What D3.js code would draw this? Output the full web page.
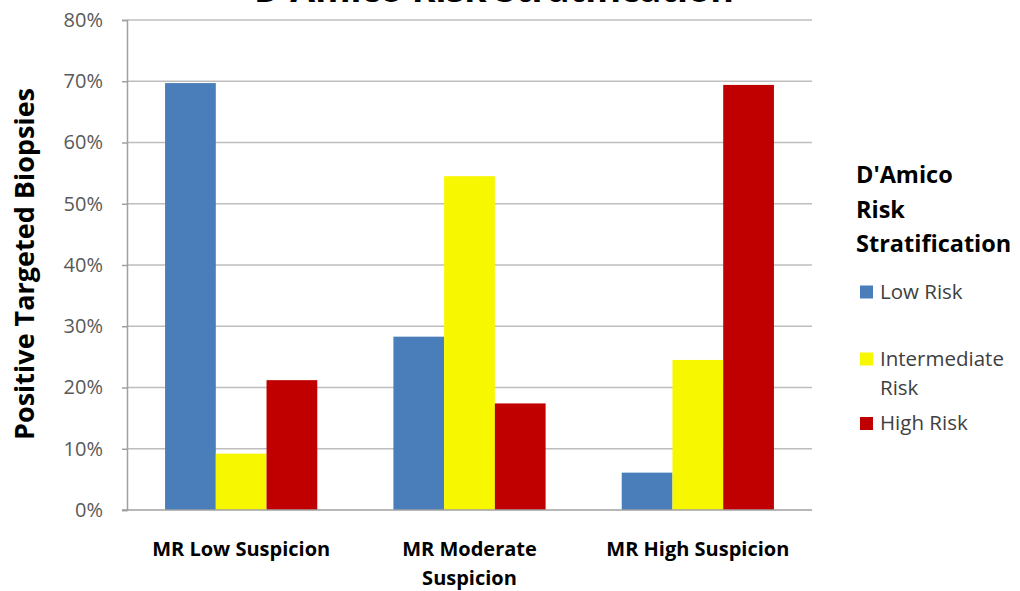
<!DOCTYPE html>
<html><head><meta charset="utf-8">
<script src="https://cdn.jsdelivr.net/npm/d3@7"></script>
<style>body{margin:0;background:#fff}svg{display:block}text{font-family:"Open Sans",Lato,sans-serif}</style>
</head><body><svg id="c" width="1020" height="591"></svg>
<script>
const categories = [["MR Low Suspicion"], ["MR Moderate", "Suspicion"], ["MR High Suspicion"]];
const seriesNames = [["Low Risk"], ["Intermediate", "Risk"], ["High Risk"]];
const lowRisk = [69.7, 28.3, 6.1];
const intermediateRisk = [9.2, 54.5, 24.5];
const highRisk = [21.2, 17.4, 69.4];
const yTicks = [0, 10, 20, 30, 40, 50, 60, 70, 80];
const colors = ["#4A7EBB", "#F7F700", "#C00000"];
const series = [lowRisk, intermediateRisk, highRisk];

(function () {
const svg = d3.select("#c");
const mLeft = 127, mRight = 812, mTop = 20, mBottom = 510;
const catIdx = categories.map((d, i) => i);
const x = d3.scaleBand().domain(catIdx).range([mLeft, mRight]).paddingInner(1 / 3).paddingOuter(1 / 6);
const x1 = d3.scaleBand().domain([0, 1, 2]).range([0, x.bandwidth()]);
const y = d3.scaleLinear().domain([0, 80]).range([mBottom, mTop]);

// title (clipped at top, as in the reference)
svg.append("text").attr("x", 494).attr("y", 2).attr("text-anchor", "middle")
  .attr("font-size", 36).attr("font-weight", "bold").attr("fill", "#000").text("D'Amico Risk Stratification");

// gridlines
svg.append("g").selectAll("line").data(yTicks.filter(d => d > 0)).join("line")
  .attr("x1", mLeft).attr("x2", mRight).attr("y1", d => y(d)).attr("y2", d => y(d))
  .attr("stroke", "#BEBEBE").attr("stroke-width", 1.5);

// y axis
const yAxis = d3.axisLeft(y).tickValues(yTicks).tickFormat(d => d + "%").tickSize(5).tickPadding(19);
const gy = svg.append("g").attr("transform", `translate(${mLeft},0)`).call(yAxis);
gy.select(".domain").attr("stroke", "#A0A0A0").attr("stroke-width", 1.5);
gy.selectAll(".tick line").attr("stroke", "#A0A0A0").attr("stroke-width", 1.5);
gy.selectAll(".tick text").attr("font-size", 20).attr("fill", "#595959").attr("font-family", "Open Sans");

// bars
series.forEach((vals, si) => {
  svg.append("g").selectAll("rect").data(vals).join("rect")
    .attr("x", (d, i) => x(i) + x1(si)).attr("width", x1.bandwidth())
    .attr("y", d => y(d)).attr("height", d => y(0) - y(d))
    .attr("fill", colors[si]);
});

// x axis baseline
svg.append("line").attr("x1", mLeft - 5).attr("x2", mRight).attr("y1", mBottom).attr("y2", mBottom)
  .attr("stroke", "#A0A0A0").attr("stroke-width", 1.5);

// category labels
const cl = svg.append("g").selectAll("text").data(categories).join("text")
  .attr("x", (d, i) => x(i) + x.bandwidth() / 2).attr("y", 556)
  .attr("text-anchor", "middle").attr("font-size", 20).attr("font-weight", "bold").attr("fill", "#000");
cl.each(function(d) {
  const t = d3.select(this);
  const cx = t.attr("x");
  d.forEach((line, j) => t.append("tspan").attr("x", cx).attr("dy", j ? 29 : 0).text(line));
});

// y axis title
svg.append("text").attr("transform", "translate(34,264) rotate(-90)").attr("text-anchor", "middle")
  .attr("font-size", 27).attr("font-weight", "bold").attr("fill", "#000").text("Positive Targeted Biopsies");

// legend
const lt = svg.append("text").attr("x", 856).attr("y", 183).attr("font-size", 23.5).attr("font-weight", "bold").attr("fill", "#000");
["D'Amico", "Risk", "Stratification"].forEach((s, j) => lt.append("tspan").attr("x", 856).attr("dy", j ? 34.5 : 0).text(s));
const legY = [298.5, 365.5, 430];
seriesNames.forEach((nm, i) => {
  svg.append("rect").attr("x", 860).attr("y", legY[i] - 13).attr("width", 13).attr("height", 13).attr("fill", colors[i]);
  const t = svg.append("text").attr("x", 880).attr("y", legY[i]).attr("font-size", 20.5).attr("fill", "#404040");
  nm.forEach((s, j) => t.append("tspan").attr("x", 880).attr("dy", j ? 29 : 0).text(s));
});
})();
</script></body></html>
